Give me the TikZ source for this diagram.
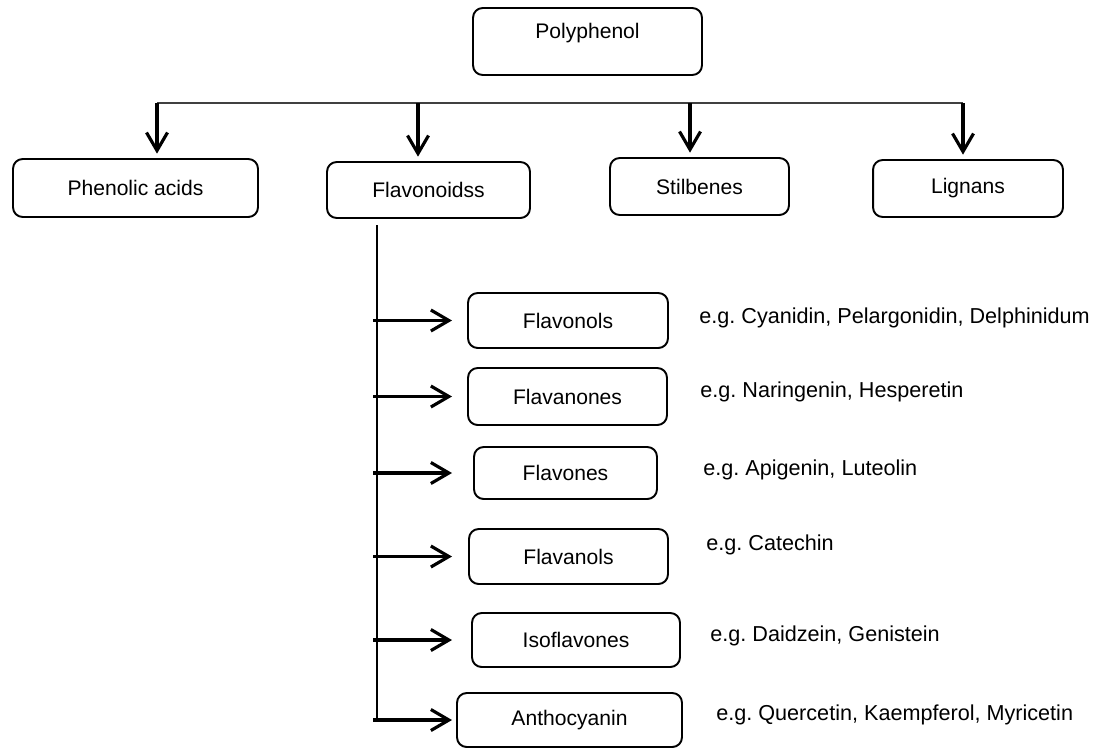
\documentclass[tikz,border=0pt]{standalone}
\usepackage{fontspec}
\setmainfont{Liberation Sans}
\usetikzlibrary{arrows.meta, positioning}
\frenchspacing
\tikzset{
    >={Straight Barb[length=0.36cm, width=0.42cm]}, % open v-shaped heads
    box/.style={draw, rounded corners=5.5pt, line width=1.1pt, inner sep=0pt, font=\fontsize{12}{14}\selectfont}, % every class box
    flow/.style={->, line width=1.8pt}, % the thick arrows
    bar/.style={line width=0.6pt, black!75}, % thin joining lines
    note/.style={anchor=west, inner sep=0pt, font=\fontsize{12.3}{14}\selectfont}, % example lists
}

\begin{document}
\begin{tikzpicture}[x=0.02cm, y=-0.02cm]
    \useasboundingbox (0,0) rectangle (1097,748);

    % top and main classes
    \node[box, minimum width=4.58cm, minimum height=1.34cm, text height=8.6pt, text depth=12.1pt] (p0) at (587.5,41.5) {Polyphenol};
    \node[box, minimum width=4.90cm, minimum height=1.16cm] (c1) at (135.5,188) {Phenolic acids};
    \node[box, minimum width=4.06cm, minimum height=1.12cm] (c2) at (428.5,190) {Flavonoidss};
    \node[box, minimum width=3.58cm, minimum height=1.14cm] (c3) at (699.5,186.5) {Stilbenes};
    \node[box, minimum width=3.80cm, minimum height=1.14cm] (c4) at (968,188.5) {Lignans};

    % flavonoid subclasses
    \node[box, minimum width=4.00cm, minimum height=1.10cm] (f1) at (568,320.5) {Flavonols};
    \node[box, minimum width=3.98cm, minimum height=1.14cm] (f2) at (567.5,396.5) {Flavanones};
    \node[box, minimum width=3.66cm, minimum height=1.04cm] (f3) at (565.5,473) {Flavones};
    \node[box, minimum width=3.98cm, minimum height=1.10cm] (f4) at (568.5,556.5) {Flavanols};
    \node[box, minimum width=4.16cm, minimum height=1.08cm] (f5) at (576,640) {Isoflavones};
    \node[box, minimum width=4.50cm, minimum height=1.08cm] (f6) at (569.5,720) {Anthocyanin};

    % examples
    \node[note] (e1) at (699,318) {e.g. Cyanidin, Pelargonidin, Delphinidum};
    \node[note] (e2) at (700,392) {e.g. Naringenin, Hesperetin};
    \node[note] (e3) at (703,470) {e.g. Apigenin, Luteolin};
    \node[note] (e4) at (706,545) {e.g. Catechin};
    \node[note] (e5) at (710,636) {e.g. Daidzein, Genistein};
    \node[note] (e6) at (716,715) {e.g. Quercetin, Kaempferol, Myricetin};

    % branch points
    \coordinate (t1) at (157,103);
    \coordinate (t2) at (418,103);
    \coordinate (t3) at (690,103);
    \coordinate (t4) at (963,103);
    \coordinate (v0) at (377,225);
    \coordinate (tip) at (452,0);

    \draw[bar] (t1) -- (t4);
    \foreach \i in {1,...,4}
        \draw[flow, shorten >=2.5pt] (t\i) -- (t\i |- c\i.north);

    \draw[bar, black] (v0) -- (v0 |- f6.west);
    \foreach \i in {1,...,6}
        \draw[flow] ([xshift=-2pt]v0 |- f\i.west) -- (tip |- f\i.west);
\end{tikzpicture}
\end{document}
